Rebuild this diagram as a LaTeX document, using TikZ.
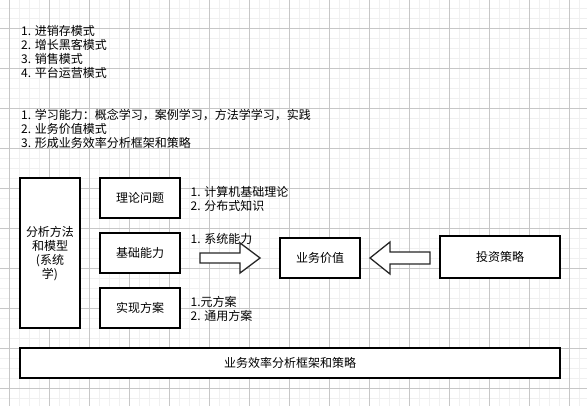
\documentclass[tikz,border=0pt]{standalone}
\usepackage{fontspec}
\setmainfont{Noto Sans CJK SC}
\begin{document}
\begin{tikzpicture}[x=1pt,y=-1pt,
  every node/.style={font=\fontsize{12}{14}\selectfont},
  box/.style={draw=black, line width=1.2pt, fill=white, inner sep=0pt, align=center},
  plain/.style={inner sep=0pt, align=left, anchor=west},
  blockarrow/.style={draw=black!85, line width=1.3pt, fill=white, line join=miter}]
\useasboundingbox (0,0) rectangle (587,406);
% grid
\foreach \i in {0,...,58} {\draw[color=black!6, line width=0.8pt] (9.5+\i*10,0) -- (9.5+\i*10,406);}
\foreach \j in {0,...,40} {\draw[color=black!6, line width=0.8pt] (0,8.5+\j*10) -- (587,8.5+\j*10);}
\foreach \i in {0,...,14} {\draw[color=black!22, line width=0.8pt] (9.5+\i*40,0) -- (9.5+\i*40,406);}
\foreach \j in {0,...,9} {\draw[color=black!22, line width=0.8pt] (0,28.5+\j*40) -- (587,28.5+\j*40);}
% top texts
\node[plain] (t1) at (21,51.7) {1. 进销存模式\\2. 增长黑客模式\\3. 销售模式\\4. 平台运营模式};
\node[plain] (t2) at (21,129.3) {1. 学习能力：概念学习，案例学习，方法学学习，实践\\2. 业务价值模式\\3. 形成业务效率分析框架和策略};
% boxes
\node[box, minimum width=60pt, minimum height=150pt] (m) at (50,253) {};
\node[inner sep=0pt, align=center] (mt) at (50,253.7) {分析方法\\和模型\\(系统\\学)\hspace{12pt}};
\node[box, minimum width=80pt, minimum height=40pt] (a) at (140,198) {理论问题};
\node[box, minimum width=80pt, minimum height=40pt] (b) at (140,253) {基础能力};
\node[box, minimum width=80pt, minimum height=40pt] (c) at (140,308) {实现方案};
\node[box, minimum width=80pt, minimum height=40pt] (v) at (320,258) {业务价值};
\node[box, minimum width=120pt, minimum height=42pt] (s) at (500,257) {投资策略};
\node[box, minimum width=540pt, minimum height=30pt] (f) at (290,363) {业务效率分析框架和策略};
% labels
\node[plain] (la) at (190.5,199) {1. 计算机基础理论\\2. 分布式知识};
\node[plain] (lb) at (190.5,239) {1. 系统能力};
\node[plain] (lc) at (190.5,309) {1.元方案\\2. 通用方案};
% block arrows
\draw[blockarrow] (200,253) -- (240,253) -- (240,243) -- (260,258) -- (240,273) -- (240,263) -- (200,263) -- cycle;
\draw[blockarrow] (430,252) -- (390,252) -- (390,242) -- (370,258) -- (390,274) -- (390,264) -- (430,264) -- cycle;
\end{tikzpicture}
\end{document}
